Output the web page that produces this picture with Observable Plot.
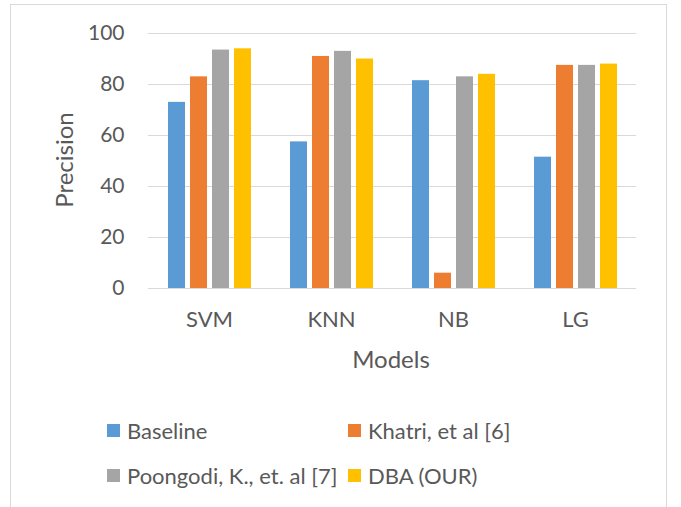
<!DOCTYPE html>
<html>
<head>
<meta charset="utf-8">
<script src="https://cdn.jsdelivr.net/npm/d3@7"></script>
<script src="https://cdn.jsdelivr.net/npm/@observablehq/plot@0.6"></script>
<style>
  html, body { margin: 0; padding: 0; background: #fff; overflow: hidden; }
  body { width: 681px; height: 507px; position: relative; font-family: Lato, "Open Sans", sans-serif; color: #595959; }
  #frame { position: absolute; left: 10px; top: 4px; width: 655px; height: 520px; border: 1px solid #d9d9d9; }
  #chart { position: absolute; left: 0; top: 0; }
  .lbl { position: absolute; font-size: 24px; color: #595959; white-space: nowrap; }
  .leg { position: absolute; font-size: 22px; color: #595959; white-space: nowrap; display: flex; align-items: center; }
  .sw { width: 13px; height: 13px; display: inline-block; margin-right: 7px; }
</style>
</head>
<body>
<div id="frame"></div>
<div id="chart"></div>
<div class="lbl" id="ylab" style="left:63px; top:160px; transform: translate(-50%,-50%) rotate(-90deg);">Precision</div>
<div class="lbl" id="xlab" style="left:391px; top:358px; transform: translate(-50%,-50%);">Models</div>
<div id="legend"></div>
<script>
const models = ["SVM", "KNN", "NB", "LG"];
const seriesNames = ["Baseline", "Khatri, et al [6]", "Poongodi, K., et. al [7]", "DBA (OUR)"];
const baseline = [73, 57.5, 81.5, 51.5];
const khatri = [83, 91, 6, 87.5];
const poongodi = [93.5, 93, 83, 87.5];
const dba = [94, 90, 84, 88];
const yTicks = [0, 20, 40, 60, 80, 100];
const colors = ["#5B9BD5", "#ED7D31", "#A5A5A5", "#FFC000"];

const seriesValues = [baseline, khatri, poongodi, dba];
const data = [];
models.forEach((m, i) => {
  seriesNames.forEach((s, j) => {
    data.push({model: m, series: s, value: seriesValues[j][i]});
  });
});

const chart = Plot.plot({
  width: 681,
  height: 390,
  marginLeft: 146,
  marginRight: 44,
  marginTop: 33,
  marginBottom: 102,
  style: {fontFamily: "Lato, 'Open Sans', sans-serif", color: "#595959", background: "transparent"},
  fx: {domain: models, padding: 0},
  x: {domain: seriesNames, paddingInner: 0.24, paddingOuter: 0.87, axis: null},
  y: {domain: [0, 100]},
  color: {domain: seriesNames, range: colors},
  marks: [
    Plot.gridY(yTicks, {stroke: "#d9d9d9", strokeOpacity: 1, strokeWidth: 1}),
    Plot.ruleY([0], {stroke: "#d9d9d9", strokeWidth: 1.2}),
    Plot.barY(data, {fx: "model", x: "series", y: "value", fill: "series"}),
    Plot.axisY(yTicks, {tickSize: 0, tickPadding: 24, fontSize: 21, label: null, fill: "#595959"}),
    Plot.axisFx({anchor: "bottom", tickSize: 0, tickPadding: 23, fontSize: 22, label: null, fill: "#595959"})
  ]
});
document.getElementById("chart").appendChild(chart);

const legend = document.getElementById("legend");
const legPos = [[107, 430], [348, 430], [107, 475], [348, 475]];
seriesNames.forEach((s, i) => {
  const d = document.createElement("div");
  d.className = "leg";
  d.style.left = legPos[i][0] + "px";
  d.style.top = (legPos[i][1] - 13) + "px";
  d.style.height = "26px";
  const sw = document.createElement("span");
  sw.className = "sw";
  sw.style.background = colors[i];
  d.appendChild(sw);
  const t = document.createElement("span");
  t.textContent = s;
  d.appendChild(t);
  legend.appendChild(d);
});
</script>
</body>
</html>
